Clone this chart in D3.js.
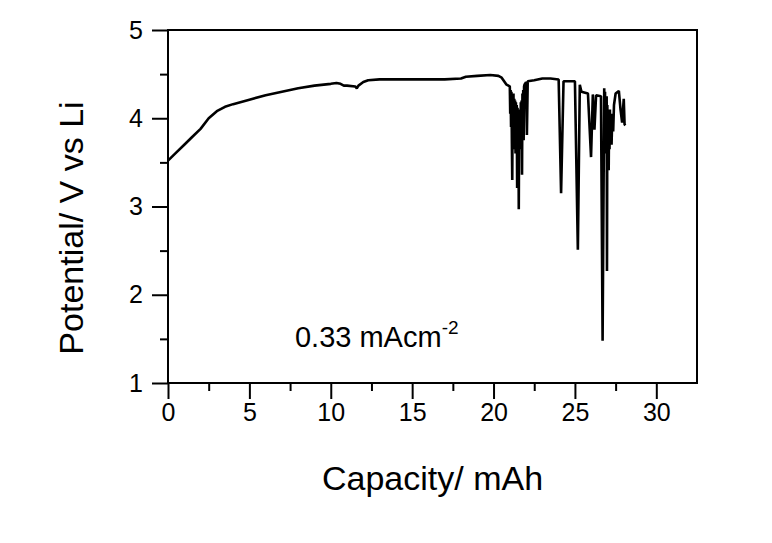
<!DOCTYPE html>
<html>
<head>
<meta charset="utf-8">
<script src="https://cdn.jsdelivr.net/npm/d3@7"></script>
<style>
  body { margin: 0; background: #fff; }
  svg { display: block; font-family: Arial, "Liberation Sans", sans-serif; }
</style>
</head>
<body>
<svg id="chart" width="772" height="543"></svg>
<script>
// galvanostatic curve (capacity in mAh, potential in V vs Li)
const capacity = [
  0, 0.5, 1.0, 1.5, 2.0, 2.5, 3.0, 3.5, 4.0, 5.0, 6.0, 7.0, 8.0, 9.0, 10.0,
  10.35, 10.6, 10.8, 11.0, 11.5, 11.6, 11.7, 12.0, 12.3, 13.0, 14.0, 15.0, 16.0, 17.0,
  18.0, 18.3, 19.0, 19.8, 20.3, 20.5, 20.8,
  21.0, 21.025, 21.05, 21.075, 21.1, 21.125, 21.15, 21.175, 21.2, 21.225, 21.25,
  21.275, 21.3, 21.325, 21.35, 21.375, 21.4, 21.425, 21.45, 21.475, 21.5, 21.525,
  21.55, 21.575, 21.6, 21.625, 21.65, 21.675, 21.7, 21.725, 21.75, 21.775, 21.8,
  21.825, 21.85, 21.875, 21.9, 22.0, 22.05, 22.1, 22.5, 23.0, 23.5,
  24.0, 24.15, 24.3, 25.0, 25.18, 25.3, 25.4, 25.8, 25.99, 26.1, 26.2, 26.3,
  26.6, 26.7, 26.8, 26.825, 26.85, 26.875, 26.9, 26.925, 26.95, 26.97, 26.99,
  27.025, 27.05, 27.075, 27.1, 27.125, 27.15, 27.175, 27.2, 27.25, 27.3, 27.35,
  27.4, 27.5, 27.7, 27.8, 27.9, 28.0, 28.05, 28.1
];
const potential = [
  3.52, 3.61, 3.70, 3.79, 3.88, 4.00, 4.08, 4.13, 4.16, 4.21, 4.26, 4.30, 4.34, 4.37, 4.39,
  4.40, 4.39, 4.37, 4.37, 4.36, 4.34, 4.37, 4.41, 4.43, 4.44, 4.44, 4.44, 4.44, 4.44,
  4.45, 4.47, 4.48, 4.49, 4.48, 4.46, 4.38,
  4.36, 4.05, 4.32, 3.90, 4.30, 3.75, 3.30, 4.25, 3.80, 4.28, 3.70,
  4.22, 3.65, 4.20, 3.60, 4.18, 3.72, 4.15, 3.21, 4.12, 3.68, 4.10,
  2.97, 4.05, 3.70, 4.10, 3.65, 4.18, 3.80, 4.20, 3.36, 4.28, 3.90,
  4.32, 3.75, 4.36, 4.38, 4.41, 3.81, 4.42, 4.43, 4.45, 4.45,
  4.44, 3.15, 4.42, 4.42, 2.51, 4.38, 4.30, 4.28, 3.56, 4.27, 3.87, 4.26,
  4.25, 1.48, 4.34, 3.80, 4.30, 3.60, 4.20, 3.75, 4.25, 2.27, 4.15,
  3.70, 4.10, 3.41, 4.05, 3.65, 4.10, 3.80, 4.00, 3.70, 4.05, 3.85,
  4.15, 4.28, 4.31, 4.10, 3.95, 4.22, 3.93, 3.92
];
const xTicks = [0, 5, 10, 15, 20, 25, 30];
const yTicks = [1, 2, 3, 4, 5];

const svg = d3.select("#chart");
const plotL = 168, plotR = 697, plotT = 30, plotB = 383;

const x = d3.scaleLinear().domain([0, 32.5]).range([plotL, plotR]);
const y = d3.scaleLinear().domain([1, 5]).range([plotB, plotT]);

// frame
svg.append("rect")
  .attr("x", plotL).attr("y", plotT)
  .attr("width", plotR - plotL).attr("height", plotB - plotT)
  .attr("fill", "none").attr("stroke", "#000").attr("stroke-width", 2);

// minor ticks first, then majors with labels
const xMinor = d3.range(2.5, 30, 5);
const yMinor = d3.range(1.5, 5, 1);

const styleTicks = g => {
  g.select(".domain").remove();
  g.selectAll("line").attr("stroke-width", 2);
  g.selectAll("text")
    .style("font-size", "25px")
    .style("font-family", "Arial, 'Liberation Sans', sans-serif")
    .attr("fill", "#000");
};

svg.append("g")
  .attr("transform", `translate(0,${plotB})`)
  .call(d3.axisBottom(x).tickValues(xMinor).tickSize(8).tickFormat(""))
  .call(styleTicks);

svg.append("g")
  .attr("transform", `translate(0,${plotB})`)
  .call(d3.axisBottom(x).tickValues(xTicks).tickSize(16).tickPadding(4).tickFormat(d3.format("d")))
  .call(styleTicks);

svg.append("g")
  .attr("transform", `translate(${plotL},0)`)
  .call(d3.axisLeft(y).tickValues(yMinor).tickSize(8).tickFormat(""))
  .call(styleTicks);

svg.append("g")
  .attr("transform", `translate(${plotL},0)`)
  .call(d3.axisLeft(y).tickValues(yTicks).tickSize(16).tickPadding(9).tickFormat(d3.format("d")))
  .call(styleTicks);

// the curve
const line = d3.line()
  .x(i => x(capacity[i]))
  .y(i => y(potential[i]));

svg.append("path")
  .attr("d", line(d3.range(capacity.length)))
  .attr("fill", "none")
  .attr("stroke", "#000")
  .attr("stroke-width", 2.6)
  .attr("stroke-linejoin", "bevel");

// axis titles
svg.append("text")
  .attr("x", (plotL + plotR) / 2).attr("y", 490)
  .attr("text-anchor", "middle")
  .attr("font-size", 34)
  .text("Capacity/ mAh");

svg.append("text")
  .attr("transform", `translate(83,228) rotate(-90)`)
  .attr("text-anchor", "middle")
  .attr("font-size", 34)
  .text("Potential/ V vs Li");

// current density note
const note = svg.append("text")
  .attr("x", x(7.8)).attr("y", 347)
  .attr("font-size", 29);
note.append("tspan").text("0.33 mAcm");
note.append("tspan").attr("dy", -13).attr("font-size", 19).text("-2");
</script>
</body>
</html>
